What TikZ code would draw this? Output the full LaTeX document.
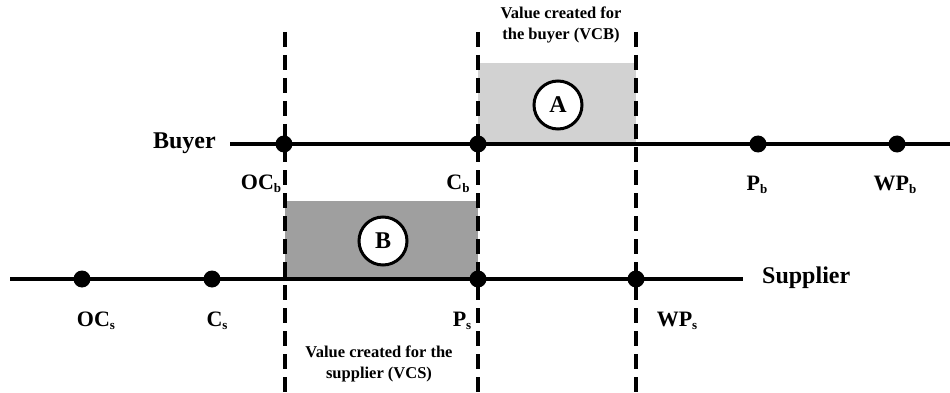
\documentclass[tikz,border=0pt]{standalone}
\usepackage{fontspec}
\setmainfont{Liberation Serif}
\newcommand{\mysub}[1]{\raisebox{-0.25ex}{\fontsize{13}{13}\selectfont #1}}
\begin{document}
\begin{tikzpicture}[x=1pt,y=-1pt,
  dot/.style={circle,fill=black,inner sep=0pt,minimum size=17pt},
  axis/.style={line width=4.5pt},
  vline/.style={line width=3.5pt,dash pattern=on 15pt off 8pt},
  lab/.style={font=\fontsize{22}{24}\selectfont\bfseries,inner sep=0pt},
  big/.style={font=\fontsize{24}{26}\selectfont\bfseries,inner sep=0pt},
  note/.style={font=\fontsize{16.5}{21.5}\selectfont\bfseries,align=center,inner sep=0pt},
  tag/.style={circle,draw=black,line width=3pt,fill=white,inner sep=0pt,minimum size=48pt,font=\fontsize{24}{26}\selectfont\bfseries}]
\useasboundingbox (0,0) rectangle (950,393);
% shaded areas
\fill[gray!35] (478,63) rectangle (636,144);
\fill[gray!75] (285,201) rectangle (478,279);
% dashed verticals
\coordinate (v1t) at (285,32); \coordinate (v1b) at (285,393);
\coordinate (v2t) at (478,32); \coordinate (v2b) at (478,393);
\coordinate (v3t) at (636,32); \coordinate (v3b) at (636,393);
\draw[vline] (v1t) -- (v1b);
\draw[vline] (v2t) -- (v2b);
\draw[vline] (v3t) -- (v3b);
% axes
\coordinate (bl) at (230,144); \coordinate (br) at (950,144);
\coordinate (sl) at (10,279); \coordinate (sr) at (743,279);
\draw[axis] (bl) -- (br);
\draw[axis] (sl) -- (sr);
% dots
\node[dot] (OCb) at (284,144) {};
\node[dot] (Cb) at (478,144) {};
\node[dot] (Pb) at (758,144) {};
\node[dot] (WPb) at (897,144) {};
\node[dot] (OCs) at (82,279) {};
\node[dot] (Cs) at (212,279) {};
\node[dot] (Ps) at (478,279) {};
\node[dot] (WPs) at (636,279) {};
% labels
\node[big,anchor=east] (buyer) at (216,143) {Buyer};
\node[big,anchor=west] (supplier) at (762,278) {Supplier};
\node[lab] (lOCb) at (261,184) {OC\mysub{b}};
\node[lab] (lCb) at (458,184) {C\mysub{b}};
\node[lab] (lPb) at (757,185) {P\mysub{b}};
\node[lab] (lWPb) at (895,185) {WP\mysub{b}};
\node[lab] (lOCs) at (96,321) {OC\mysub{s}};
\node[lab] (lCs) at (217,321) {C\mysub{s}};
\node[lab] (lPs) at (462,321) {P\mysub{s}};
\node[lab] (lWPs) at (677,321) {WP\mysub{s}};
\node[note] (vcb) at (561,25) {Value created for\\the buyer (VCB)};
\node[note] (vcs) at (379,364) {Value created for the\\supplier (VCS)};
\node[tag] (A) at (558,105) {A};
\node[tag] (B) at (383,241) {B};
\end{tikzpicture}
\end{document}
